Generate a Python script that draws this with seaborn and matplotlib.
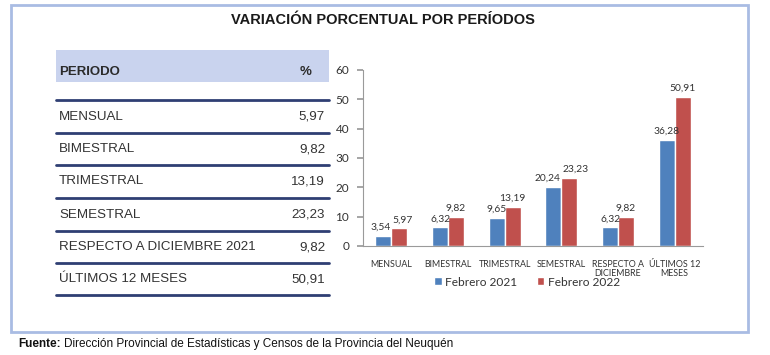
import matplotlib
matplotlib.use("Agg")
import matplotlib.pyplot as plt
import seaborn as sns
import pandas as pd
from matplotlib.patches import Rectangle
from matplotlib.lines import Line2D

periodos = ["MENSUAL", "BIMESTRAL", "TRIMESTRAL", "SEMESTRAL",
            "RESPECTO A DICIEMBRE 2021", "ÚLTIMOS 12 MESES"]
tabla_vals = ["5,97", "9,82", "13,19", "23,23", "9,82", "50,91"]
categorias = ["MENSUAL", "BIMESTRAL", "TRIMESTRAL", "SEMESTRAL",
              "RESPECTO A\nDICIEMBRE", "ÚLTIMOS 12\nMESES"]
feb2021 = [3.54, 6.32, 9.65, 20.24, 6.32, 36.28]
feb2022 = [5.97, 9.82, 13.19, 23.23, 9.82, 50.91]
series = ["Febrero 2021", "Febrero 2022"]
colores = ["#4F81BD", "#C0504D"]

sns.set_theme(style="white")
plt.rcParams['font.family'] = ['Liberation Sans', 'DejaVu Sans']
chart_font = ['Lato', 'DejaVu Sans']

W, H = 770, 355
fig = plt.figure(figsize=(W / 100, H / 100), dpi=100)

def fx(x):
    return x / W

def fy(y):
    return 1 - y / H

# outer frame
fig.patches.append(Rectangle((fx(11), fy(332)), fx(748 - 11), (332 - 5) / H,
                             transform=fig.transFigure, fill=False,
                             edgecolor="#A9BCE3", linewidth=2))

fig.text(fx(383), fy(20), "VARIACIÓN PORCENTUAL POR PERÍODOS", ha="center",
         va="center", fontsize=10.5, fontweight="bold", color="#1a1a1a")

# table
fig.patches.append(Rectangle((fx(56), fy(82)), fx(329 - 56), 32 / H,
                             transform=fig.transFigure, facecolor="#C9D3EE",
                             edgecolor="none"))
fig.text(fx(59), fy(72), "PERIODO", ha="left", va="center", fontsize=9.5,
         fontweight="bold", color="#2b2b2b")
fig.text(fx(312), fy(72), "%", ha="right", va="center", fontsize=9.5,
         fontweight="bold", color="#2b2b2b")
lines_y = [100, 133, 165, 198, 231, 263, 295]
for ly in lines_y:
    fig.lines.append(Line2D([fx(56), fx(329)], [fy(ly), fy(ly)],
                            transform=fig.transFigure, color="#2F3F73",
                            linewidth=2))
for i, (p, v) in enumerate(zip(periodos, tabla_vals)):
    yc = (lines_y[i] + lines_y[i + 1]) / 2
    fig.text(fx(59), fy(yc), p, ha="left", va="center", fontsize=9.6,
             color="#333333")
    fig.text(fx(325), fy(yc), v, ha="right", va="center", fontsize=9.6,
             color="#333333")

# chart
df = pd.DataFrame({
    "cat": categorias * 2,
    "serie": [series[0]] * len(categorias) + [series[1]] * len(categorias),
    "val": feb2021 + feb2022,
})
ax = fig.add_axes([fx(363), fy(246), fx(703 - 363), (246 - 70) / H])
sns.barplot(data=df, x="cat", y="val", hue="serie", palette=colores,
            width=0.56, ax=ax, saturation=1, legend=True)
label_sets = []
for cont in ax.containers:
    anns = ax.bar_label(cont, labels=[f"{b.get_height():.2f}".replace(".", ",")
                                      for b in cont], padding=3, fontsize=7.4,
                        color="#333333", family=chart_font)
    label_sets.append(anns)
ax.set_ylim(0, 60)
ax.set_yticks(range(0, 61, 10))
ax.set_xlabel("")
ax.set_ylabel("")
for s in ["top", "right"]:
    ax.spines[s].set_visible(False)
for s in ["left", "bottom"]:
    ax.spines[s].set_color("#9a9a9a")
    ax.spines[s].set_linewidth(0.8)
ax.tick_params(axis="y", left=True, length=4, color="#9a9a9a",
               labelsize=8.5, labelcolor="#333333", pad=6)
for t in ax.get_yticklabels():
    t.set_family(chart_font)
ax.tick_params(axis="x", bottom=False, labelcolor="#333333", pad=4)
ax.set_xticks(range(len(categorias)))
ax.set_xticklabels(categorias, linespacing=1.05, family=chart_font, fontsize=6.4)
ax.set_xlim(-0.5, len(categorias) - 0.5)
leg = ax.legend(loc="center", bbox_to_anchor=(fx(527), fy(282)),
                bbox_transform=fig.transFigure, ncol=2, frameon=False,
                prop={"family": chart_font, "size": 8.6}, handlelength=0.65,
                handleheight=0.65, handletextpad=0.3, columnspacing=1.6,
                borderpad=0.1)
for t in leg.get_texts():
    t.set_color("#333333")

# separate overlapping value labels (Excel-style outward nudge)
fig.canvas.draw()
r = fig.canvas.get_renderer()
for a_lab, b_lab in zip(label_sets[0], label_sets[1]):
    ba = a_lab.get_window_extent(r)
    bb = b_lab.get_window_extent(r)
    ov_x = ba.x1 - bb.x0
    ov_y = min(ba.y1, bb.y1) - max(ba.y0, bb.y0)
    if ov_x > -1 and ov_y > -1:
        shift = (ov_x + 2) / 2 * 72 / 100
        xa, ya = a_lab.xyann
        xb, yb = b_lab.xyann
        a_lab.xyann = (xa - shift, ya)
        b_lab.xyann = (xb + shift, yb)

# footer
t1 = fig.text(fx(18), fy(344), "Fuente:", ha="left", va="center",
              fontsize=8.5, fontweight="bold", color="#111111")
fig.canvas.draw()
bbx = t1.get_window_extent()
fig.text(bbx.x1 / W + fx(3), fy(344),
         "Dirección Provincial de Estadísticas y Censos de la Provincia del Neuquén",
         ha="left", va="center", fontsize=8.5, color="#111111")

fig.savefig("out.png", dpi=100)
